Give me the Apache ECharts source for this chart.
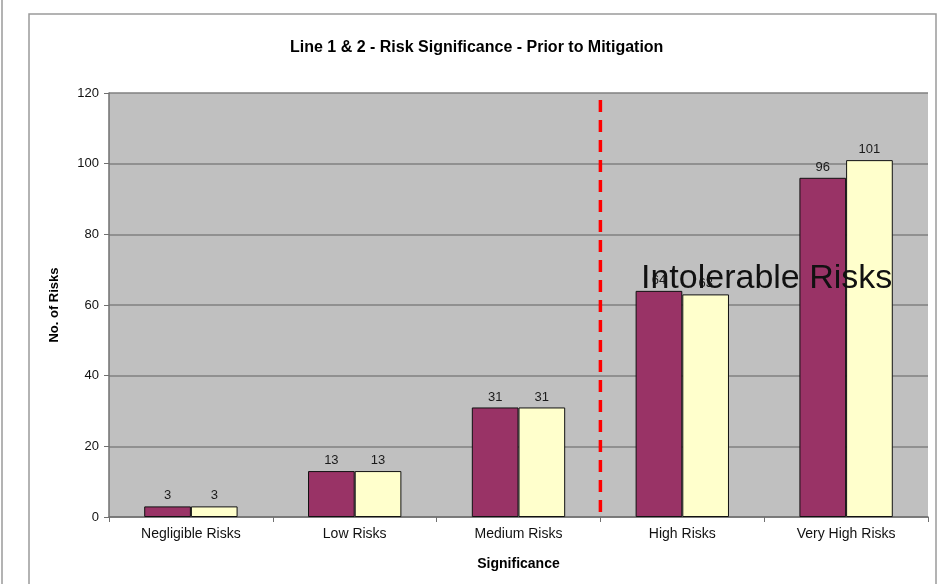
<!DOCTYPE html>
<html>
<head>
<meta charset="utf-8">
<script src="https://cdn.jsdelivr.net/npm/echarts@6/dist/echarts.min.js"></script>
<style>
  html, body { margin: 0; padding: 0; background: #ffffff; }
  #chart { width: 946px; height: 584px; }
</style>
</head>
<body>
<div id="chart"></div>
<script>
// Risk categories along the x axis
const categories = ['Negligible Risks', 'Low Risks', 'Medium Risks', 'High Risks', 'Very High Risks'];
// Number of risks per category, one series per line
const line1Values = [3, 13, 31, 64, 96];
const line2Values = [3, 13, 31, 63, 101];
// Y axis range and step
const yTicks = { min: 0, max: 120, interval: 20 };
// Category boundary where intolerable risks begin (index of first intolerable category)
const thresholdIndex = 3;
const thresholdSpan = [1.4, 119];
const thresholdLabel = 'Intolerable Risks';

const font = '"Liberation Sans", Arial, sans-serif';
const chart = echarts.init(document.getElementById('chart'), null, { renderer: 'canvas' });

const labelStyle = {
  show: true,
  position: 'top',
  distance: 4,
  color: '#1a1a1a',
  fontFamily: font,
  fontSize: 13
};

chart.setOption({
  backgroundColor: '#ffffff',
  animation: false,
  title: {
    text: 'Line 1 & 2 - Risk Significance - Prior to Mitigation',
    left: 285,
    top: 35,
    textStyle: { fontFamily: font, fontSize: 16, fontWeight: 'bold', color: '#000' }
  },
  grid: {
    left: 109, right: 18, top: 93, bottom: 67,
    show: true,
    backgroundColor: '#c0c0c0',
    borderWidth: 0
  },
  xAxis: [{
    type: 'category',
    data: categories,
    name: 'Significance',
    nameLocation: 'middle',
    nameGap: 40,
    nameTextStyle: { fontFamily: font, fontSize: 14, fontWeight: 'bold', color: '#000' },
    axisLine: { lineStyle: { color: '#707070', width: 1.5 } },
    axisTick: { show: true, length: 5, lineStyle: { color: '#707070' } },
    axisLabel: { fontFamily: font, fontSize: 14, color: '#111', margin: 10 },
    splitLine: { show: false }
  }, {
    type: 'value',
    min: 0,
    max: categories.length,
    show: false
  }],
  yAxis: {
    type: 'value',
    min: yTicks.min,
    max: yTicks.max,
    interval: yTicks.interval,
    name: 'No. of Risks',
    nameLocation: 'middle',
    nameGap: 48,
    nameRotate: 90,
    nameTextStyle: { fontFamily: font, fontSize: 13, fontWeight: 'bold', color: '#000' },
    axisLine: { show: true, lineStyle: { color: '#707070', width: 1.5 } },
    axisTick: { show: true, length: 5, lineStyle: { color: '#707070' } },
    axisLabel: { fontFamily: font, fontSize: 13, color: '#111', margin: 10 },
    splitLine: { show: true, lineStyle: { color: '#808080', width: 1.5 } }
  },
  series: [{
    name: 'Line 1',
    type: 'bar',
    data: line1Values,
    barGap: '0%',
    barCategoryGap: '43%',
    itemStyle: { color: '#993366', borderColor: '#111', borderWidth: 1 },
    label: labelStyle,
    z: 2
  }, {
    name: 'Line 2',
    type: 'bar',
    data: line2Values,
    itemStyle: { color: '#ffffcc', borderColor: '#111', borderWidth: 1 },
    label: labelStyle,
    z: 2
  }, {
    name: 'Threshold',
    type: 'line',
    xAxisIndex: 1,
    data: [[thresholdIndex, thresholdSpan[0]], [thresholdIndex, thresholdSpan[1]]],
    symbol: 'none',
    lineStyle: { color: '#ff0000', width: 3.5, type: [12, 8] },
    z: 5
  }],
  graphic: [
    { type: 'rect', shape: { x: 29, y: 14, width: 907, height: 600 },
      style: { fill: 'none', stroke: '#9a9a9a', lineWidth: 1.5 }, z: -10, silent: true },
    { type: 'line', shape: { x1: 2, y1: 0, x2: 2, y2: 584 },
      style: { stroke: '#9a9a9a', lineWidth: 1.5 }, z: -10, silent: true },
    { type: 'text', left: 641, top: 262, z: 100,
      style: { text: thresholdLabel, font: '34px ' + font, fill: '#111' } }
  ]
});
</script>
</body>
</html>
